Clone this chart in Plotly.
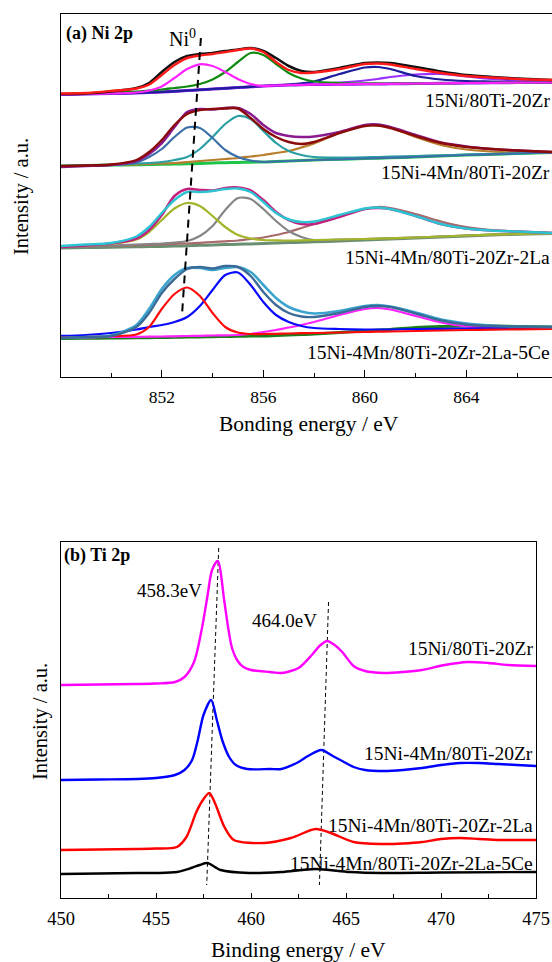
import plotly.graph_objects as go

# ---------------- Ni 2p (panel a) ----------------
ni_energy = [848, 849, 850, 851, 851.5, 852, 852.5, 853, 853.5, 854, 854.5, 855, 855.5, 856,
             856.5, 857, 857.5, 858, 859, 860, 860.5, 861, 862, 863, 864, 865, 866, 867.4]

# 15Ni/80Ti-20Zr
s1_raw = [283, 283.5, 285.5, 289, 294, 305, 315, 321, 323, 324, 326, 327.5, 329, 326, 319, 311, 306, 305,
          309, 314, 314.5, 314, 310, 305.5, 302, 300, 298.5, 297]
s1_fit = [283.5, 284, 286, 288.5, 292.5, 302, 312, 319, 321.5, 323, 325, 327, 328.5, 325, 315, 307, 304,
          304.5, 308, 313, 313.5, 312.5, 308, 304, 301, 299.5, 298, 297]
s1_bg = [282.5, 283, 283.5, 284, 284.5, 285, 285.7, 286.5, 287.2, 288, 288.7, 289.5, 290.2, 291, 291.5, 292,
         292.2, 292.5, 292.7, 293, 293, 293.2, 293.5, 293.7, 294, 294.2, 294.4, 294.5]
s1_ni0 = [282.5, 283, 283.5, 284.5, 286.5, 290.5, 299, 308, 312.7, 311, 305, 298, 293, 291, 291.5, 292, 292.2,
          292.5, 292.7, 293, 293, 293.2, 293.5, 293.7, 294, 294.2, 294.4, 294.5]
s1_ni2 = [283, 283.5, 284.2, 285.5, 286.5, 287.5, 289, 290.5, 293, 297.5, 305, 315, 324, 322, 313, 304, 298.5,
          295.5, 294, 293.5, 293.5, 293.5, 293.7, 293.8, 294, 294.2, 294.4, 294.5]
s1_sat1 = [282.5, 283, 283.5, 284, 284.5, 285, 285.7, 286.5, 287.2, 288, 288.7, 289.5, 290.2, 291, 291.5,
           292.5, 293.7, 295.5, 303, 309.5, 310, 308, 301, 297.5, 296, 295.5, 295, 294.8]
s1_sat2 = [282.5, 283, 283.5, 284, 284.5, 285, 285.7, 286.5, 287.2, 288, 288.7, 289.5, 290.2, 291, 291.5,
           292, 292.3, 293, 294.5, 296.5, 298, 300, 302.5, 303, 300.5, 298, 296.5, 295.5]

# 15Ni-4Mn/80Ti-20Zr
s2_raw = [210, 211, 212, 216, 223, 234, 250, 265, 268, 267.5, 269, 269, 263, 252, 244, 241, 240, 240.5, 245,
          252, 252.5, 250, 242, 234.5, 230.5, 228, 226.5, 225]
s2_fit = [211, 211.5, 212.5, 217, 225, 237, 252, 263, 267, 268, 268.5, 268.5, 259, 248, 240, 235, 233, 235,
          244, 251, 251.5, 249, 241, 234, 230, 228, 226.5, 225]
s2_bg = [211, 211.5, 212, 212.2, 212.4, 212.7, 213, 213.2, 213.5, 214, 214.3, 214.5, 214.8, 215, 215.5, 216,
         216.5, 217, 217.7, 218.5, 218.8, 219.2, 220, 221, 222, 222.7, 223.5, 224.5]
s2_ni0 = [211, 211.5, 212, 214.5, 220, 228, 240, 249.5, 249, 239, 227, 220, 216.5, 215, 215.5, 216, 216.5, 217,
          217.7, 218.5, 218.8, 219.2, 220, 221, 222, 222.7, 223.5, 224.5]
s2_ni2 = [211, 211.5, 212, 213.5, 214, 215, 217, 220, 228, 240, 253, 261, 258, 246, 234, 226, 222, 220,
          219.5, 219.7, 220, 220.3, 221, 221.7, 222.3, 223, 223.7, 224.5]
s2_sat = [211, 211.5, 212, 212.7, 213, 213.5, 214, 215, 216, 217, 218, 219, 220.5, 222, 224, 226, 229.5,
          233.5, 244, 251.5, 251.5, 249.5, 240, 232, 227.5, 225.5, 224.5, 224]

# 15Ni-4Mn/80Ti-20Zr-2La
s3_raw = [130, 131.5, 133.5, 138.5, 147, 162, 181, 188, 187, 186.5, 189, 189.5, 186.5, 177, 165, 157, 153,
          153, 160, 168, 169, 168, 161, 153, 148.5, 146.5, 145.5, 144]
s3_fit = [131, 132.5, 134, 140.5, 150, 164, 177, 185, 185, 186, 188, 188.5, 185, 175, 164, 157.5, 155,
          155.5, 162, 168.5, 169.5, 168, 161, 153, 148.5, 146.5, 145.5, 144]
s3_bg = [129, 129.4, 129.8, 130.2, 130.4, 130.5, 130.9, 131.3, 131.7, 132, 132.4, 132.8, 133.1, 133.5, 133.9,
         134.4, 134.8, 135.2, 136, 137, 137.5, 138, 139, 140, 141, 142, 142.8, 143.5]
s3_ni0 = [130.5, 131.5, 133, 137.5, 145, 157, 168.5, 174, 171, 161, 150, 142, 138.5, 137, 136.7, 136.5, 136.7,
          137, 137.5, 138, 138.3, 138.7, 139.5, 140.5, 141.5, 142.3, 143, 143.5]
s3_ni2 = [130, 130.7, 131.5, 132.5, 133, 133.5, 134.5, 136, 141, 151, 167, 179, 178, 168, 156, 146, 140, 137,
          137.5, 138, 138.3, 138.7, 139.5, 140.5, 141.5, 142.3, 143, 143.5]
s3_sat = [130, 130.5, 131, 131.7, 132, 132.5, 133, 133.5, 134.2, 135, 135.7, 136.5, 138, 139.5, 142, 145,
          149, 153, 161, 168, 170, 169, 163, 155.5, 150, 147, 145.5, 144]

# 15Ni-4Mn/80Ti-20Zr-2La-5Ce
s4_raw = [39, 40, 41.5, 52, 68, 88, 102, 109, 109, 107, 109, 110, 105, 92, 79, 70, 65.5, 63.5, 66, 71, 72,
          70.5, 64.5, 57.5, 53.5, 51.5, 50.5, 50]
s4_fit = [39, 40, 41, 50, 64, 84, 98, 108, 110, 108.5, 111, 110, 101, 85, 72, 64, 60.5, 60, 64, 70, 71, 70,
          63.5, 56.5, 52.5, 51, 50.5, 50]
s4_bg = [38.5, 38.7, 39, 39.2, 39.3, 39.5, 39.7, 39.9, 40.1, 40.3, 40.5, 40.7, 40.9, 41, 41.5, 42, 42.5, 43,
         44.5, 46, 47, 47.5, 49.5, 50.5, 51, 51, 50.5, 50]
s4_ni0 = [39.5, 40, 41, 42.5, 50, 68, 83, 89.5, 81, 64, 50, 44.5, 43, 43, 43.2, 43.5, 43.8, 44, 44.5, 45,
          45.3, 45.5, 46, 46.5, 47, 47.3, 47.7, 48]
s4_ni2 = [41, 42, 44, 47.5, 50, 52, 55, 60, 71, 87, 102, 104.5, 92, 75, 62, 55, 51, 49, 48, 47.5, 47.5, 47.5,
          48, 48.2, 48.5, 48.7, 48.9, 49]
s4_sat = [39.5, 39.7, 40, 40.2, 40.3, 40.5, 40.7, 41, 41.2, 41.5, 41.7, 42, 43, 45, 47, 49.5, 52, 55, 62, 68,
          69, 67.5, 61, 54.5, 50.5, 49, 48.5, 48]

ni0_guide_e = [853.54, 852.79]
ni0_guide_i = [339, 60]

ni_labels = ["15Ni/80Ti-20Zr", "15Ni-4Mn/80Ti-20Zr", "15Ni-4Mn/80Ti-20Zr-2La", "15Ni-4Mn/80Ti-20Zr-2La-5Ce"]
ni_ticks = [852, 856, 860, 864]

# ---------------- Ti 2p (panel b) ----------------
ti1_e = [450, 452, 454, 455, 456, 456.5, 457, 457.4, 457.7, 457.95, 458.25, 458.6, 458.8, 459, 459.3, 459.6,
         460, 461, 461.6, 462.5, 463.2, 463.6, 464, 464.4, 464.8, 465.4, 466, 467, 468, 469, 470.2, 471.4,
         472.5, 473.5, 475]
ti1_i = [213, 213.5, 214, 214.5, 216, 221, 236, 268, 301, 328, 337, 296, 270, 250, 237, 231, 228, 226, 225,
         230, 243, 252, 257, 253, 246, 232, 227, 225, 226, 228, 233, 236, 235, 233, 232]
ti2_e = [450, 452, 454, 455, 456, 456.5, 456.9, 457.2, 457.5, 457.9, 458.2, 458.5, 458.85, 459.2, 459.8,
         461, 461.6, 462.5, 463, 463.7, 464.3, 464.8, 465.4, 466, 467, 468, 469, 470, 471, 472, 473, 474, 475]
ti2_i = [118, 118.5, 119, 120, 123, 128, 138, 158, 183, 198, 178, 157, 141, 133, 129, 129, 129, 136, 142,
         148, 142, 137, 131, 128, 127, 128, 130, 133, 135, 135, 134, 133, 132]
ti3_e = [450, 452, 454, 455, 456.1, 456.6, 457.1, 457.4, 457.8, 458.1, 458.6, 459.1, 460.7, 462.1, 463.4,
         464.2, 465.4, 466.9, 468, 469, 470, 471, 472, 473, 474, 475]
ti3_i = [48, 48.5, 49, 49.5, 51, 61, 85, 96, 105, 95, 71, 58, 55, 60, 69, 65, 56, 54, 54.5, 56, 59, 60, 59,
         58, 58, 58]
ti4_e = [450, 452, 454, 455, 456.1, 456.85, 457.3, 457.7, 458.4, 459.9, 461.6, 463.4, 465.2, 466.9, 470, 475]
ti4_i = [24, 24.5, 25, 25, 26, 30, 33, 35, 28, 25, 26, 29, 26, 25, 25.5, 26]

ti_guide1_e = [458.3, 457.67]
ti_guide1_i = [350, 13]
ti_guide2_e = [464.08, 463.6]
ti_guide2_i = [296, 13]

ti_labels = ["15Ni/80Ti-20Zr", "15Ni-4Mn/80Ti-20Zr", "15Ni-4Mn/80Ti-20Zr-2La", "15Ni-4Mn/80Ti-20Zr-2La-5Ce"]
ti_peaks = ["458.3eV", "464.0eV"]

# ---------------- figure ----------------
# the photographed page comes out ~2.7 % narrower than laid out, so lay it out slightly wider
REF_W = 552
SX = 567 / 552
W, H = round(REF_W * SX), 962
L = 59 * SX
SERIF = "Liberation Serif, Times New Roman, serif"


def P(px, py):
    """reference pixel -> paper coordinates"""
    return (px - 59) / (REF_W - 59), 1 - py / H


def ydom(top_px, bottom_px):
    return [1 - bottom_px / H, 1 - top_px / H]


fig = go.Figure()


def add(x, y, color, width=2.0, xa="x", ya="y", dash=None, shape="spline"):
    fig.add_trace(go.Scatter(x=x, y=y, mode="lines", xaxis=xa, yaxis=ya, hoverinfo="skip",
                             line=dict(color=color, width=width, dash=dash, shape=shape, smoothing=0.8),
                             showlegend=False))


spectra = [
    (s1_bg, [(s1_sat2, "#9b30ff"), (s1_sat1, "#1c1c9c"), (s1_ni2, "#108a10"), (s1_ni0, "#ff22ff")],
     s1_raw, "#111111", s1_fit, "#ff1a1a", "#7d10d8"),
    (s2_bg, [(s2_sat, "#b87d2c"), (s2_ni2, "#2a9fa3"), (s2_ni0, "#3b6fa8")],
     s2_raw, "#8a1a90", s2_fit, "#8b0a0a", "#1fc44a"),
    (s3_bg, [(s3_sat, "#a86b6b"), (s3_ni2, "#858585"), (s3_ni0, "#a5b52a")],
     s3_raw, "#c4207e", s3_fit, "#2cc3d3", "#6a8f70"),
    (s4_bg, [(s4_sat, "#ff22ff"), (s4_ni2, "#0a0aff"), (s4_ni0, "#ff0a0a")],
     s4_raw, "#3aa4cf", s4_fit, "#3a6a95", "#1a7f1a"),
]
for bg, comps, raw, rawc, fit, fitc, bgc in spectra:
    add(ni_energy, bg, bgc, 3.0)
    for vals, c in comps:
        add(ni_energy, vals, c, 2.2)
    add(ni_energy, raw, rawc, 2.6)
    add(ni_energy, fit, fitc, 2.4)

add(ni0_guide_e, ni0_guide_i, "#000000", 2.0, dash="8px,6px", shape="linear")

# Ti 2p
add(ti_guide1_e, ti_guide1_i, "#000000", 1.0, "x2", "y2", dash="4px,3px", shape="linear")
add(ti_guide2_e, ti_guide2_i, "#000000", 1.0, "x2", "y2", dash="4px,3px", shape="linear")
add(ti4_e, ti4_i, "#000000", 2.4, "x2", "y2")
add(ti3_e, ti3_i, "#ff0000", 2.4, "x2", "y2")
add(ti2_e, ti2_i, "#0000ff", 2.4, "x2", "y2")
add(ti1_e, ti1_i, "#ff00ff", 2.4, "x2", "y2")

axis_common = dict(showgrid=False, zeroline=False, showline=True, linecolor="#000000", linewidth=1.3)

fig.update_layout(
    width=W, height=H, margin=dict(l=L, r=0, t=0, b=0),
    paper_bgcolor="white", plot_bgcolor="white",
    font=dict(family=SERIF, color="#000000"),
    xaxis=dict(**axis_common, domain=[0, 1], range=[848.03, 867.41], anchor="y", mirror=True,
               tickmode="array", tickvals=ni_ticks, ticktext=[str(t) for t in ni_ticks],
               ticks="inside", ticklen=7, tickwidth=1.2, tickcolor="#000",
               minor=dict(dtick=2, tick0=848, ticks="inside", ticklen=4, tickwidth=1.1, tickcolor="#000"),
               tickfont=dict(family=SERIF, size=17.5), ticklabelstandoff=4),
    yaxis=dict(**axis_common, domain=ydom(14, 377), range=[0, 363], anchor="x",
               showticklabels=False, ticks=""),
    xaxis2=dict(**axis_common, domain=[0, (535 - 59) / (REF_W - 59)], range=[450, 475], anchor="y2",
                mirror=True, dtick=5, tick0=450, ticks="inside", ticklen=5, tickwidth=1.2, tickcolor="#000",
                minor=dict(dtick=2.5, tick0=450, ticks="inside", ticklen=3.5, tickwidth=1.1,
                           tickcolor="#000"),
                tickfont=dict(family=SERIF, size=18.5), ticklabelstandoff=4),
    yaxis2=dict(**axis_common, domain=ydom(542, 898), range=[0, 356], anchor="x2",
                mirror=True, showticklabels=False, ticks=""),
)

ann = []


def text(t, px, py, size, xanchor="center", yanchor="middle", bold=False, angle=0):
    x, y = P(px, py)
    ann.append(dict(text=("<b>%s</b>" % t) if bold else t, x=x, y=y, xref="paper", yref="paper",
                    showarrow=False, xanchor=xanchor, yanchor=yanchor, textangle=angle,
                    font=dict(family=SERIF, size=size, color="#000")))


# panel a
text("(a) Ni 2p", 62, 34, 18, xanchor="left", bold=True)
text("Ni<sup>0</sup>", 181, 38, 20)
for lab, py in zip(ni_labels, [100, 173, 257, 352]):
    text(lab, 551, py, 19.5, xanchor="right")
text("Bonding energy / eV", 308, 424, 21.5)
text("Intensity / a.u.", 20, 197, 20.5, angle=-90)

# panel b
text("(b) Ti 2p", 60, 555, 18, xanchor="left", bold=True)
text(ti_peaks[0], 168, 590, 19)
text(ti_peaks[1], 283, 620, 19)
for lab, py in zip(ti_labels, [648, 753, 825, 863]):
    text(lab, 534, py, 19.5, xanchor="right")
text("Binding energy / eV", 297, 950, 21.5)
text("Intensity / a.u.", 38, 722, 20.5, angle=-90)

fig.update_layout(annotations=ann)
fig.write_html("out.html", config={"displayModeBar": False},
               post_script="document.body.style.margin='0';document.body.style.overflow='hidden';")
